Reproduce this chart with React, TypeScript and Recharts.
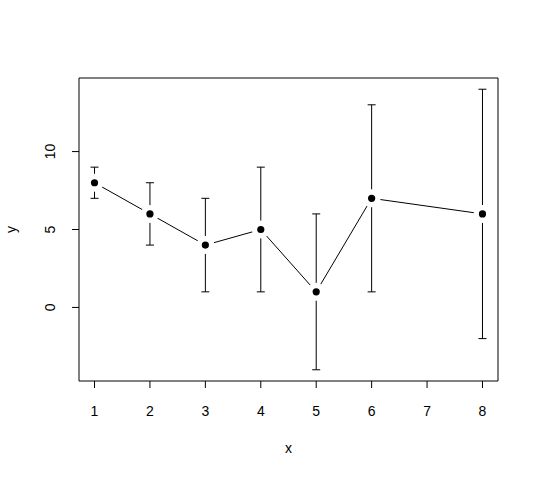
import { ComposedChart, Line, Scatter, XAxis, YAxis, ErrorBar, ReferenceArea } from 'recharts';

const FONT = '"Liberation Sans", Arial, Helvetica, sans-serif';
const FS = 14;

// points (x, y) with lower / upper ends of the error bars
const xs = [1, 2, 3, 4, 5, 6, 8];
const ys = [8, 6, 4, 5, 1, 7, 6];
const lower = [7, 4, 1, 1, -4, 1, -2];
const upper = [9, 8, 7, 9, 6, 13, 14];

const xTicks = [1, 2, 3, 4, 5, 6, 7, 8];
const yTicks = [0, 5, 10];

// R pads the range by 4% on each side
const xDomain = [0.72, 8.28];
const yDomain = [-4.72, 14.72];

const data = xs.map((x, i) => ({
  x,
  y: ys[i],
  err: [ys[i] - lower[i], upper[i] - ys[i]],
}));

const XTick = (p: any) => (
  <text x={p.x} y={p.y + 26} textAnchor="middle" fontSize={FS} fill="#000" fontFamily={FONT}>
    {p.payload.value}
  </text>
);

const YTick = (p: any) => {
  const x = p.x - 15;
  return (
    <text
      x={x}
      y={p.y}
      transform={`rotate(-90, ${x}, ${p.y})`}
      textAnchor="middle"
      fontSize={FS}
      fill="#000"
      fontFamily={FONT}
    >
      {p.payload.value}
    </text>
  );
};

const XTitle = ({ viewBox }: any) => (
  <text
    x={viewBox.x + viewBox.width / 2}
    y={viewBox.y + viewBox.height - 26}
    textAnchor="middle"
    fontSize={FS}
    fill="#000"
    fontFamily={FONT}
  >
    x
  </text>
);

const YTitle = ({ viewBox }: any) => {
  const x = viewBox.x + 16;
  const y = viewBox.y + viewBox.height / 2;
  return (
    <text x={x} y={y} transform={`rotate(-90, ${x}, ${y})`} textAnchor="middle" fontSize={FS} fill="#000" fontFamily={FONT}>
      y
    </text>
  );
};

// white halo so the connecting line stops short of each point (type = "b")
const gapDot = (p: any) => <circle key={`g${p.index}`} cx={p.cx} cy={p.cy} r={9} fill="#fff" stroke="none" />;

const solidDot = (p: any) => <circle cx={p.cx} cy={p.cy} r={3.6} fill="#000" stroke="none" />;

export default function App() {
  return (
    <div style={{ position: 'absolute', left: 0, top: 0, background: '#fff' }}>
      <ComposedChart width={538} height={479} data={data} margin={{ top: 78, right: 40, bottom: 0, left: 0 }}>
        <XAxis
          dataKey="x"
          type="number"
          domain={xDomain}
          ticks={xTicks}
          allowDataOverflow
          height={98}
          tickSize={7}
          axisLine={false}
          tickLine={{ stroke: '#000' }}
          tick={<XTick />}
          label={<XTitle />}
        />
        <YAxis
          type="number"
          domain={yDomain}
          ticks={yTicks}
          allowDataOverflow
          width={79}
          tickSize={7}
          axisLine={false}
          tickLine={{ stroke: '#000' }}
          tick={<YTick />}
          label={<YTitle />}
        />
        <ReferenceArea x1={xDomain[0]} x2={xDomain[1]} y1={yDomain[0]} y2={yDomain[1]} fill="none" stroke="#000" />
        <Line
          dataKey="y"
          stroke="#000"
          strokeWidth={1}
          dot={gapDot}
          activeDot={false}
          isAnimationActive={false}
        />
        <Scatter dataKey="y" fill="#000" shape={solidDot} isAnimationActive={false}>
          <ErrorBar dataKey="err" direction="y" width={4} stroke="#000" strokeWidth={1} />
        </Scatter>
      </ComposedChart>
    </div>
  );
}
